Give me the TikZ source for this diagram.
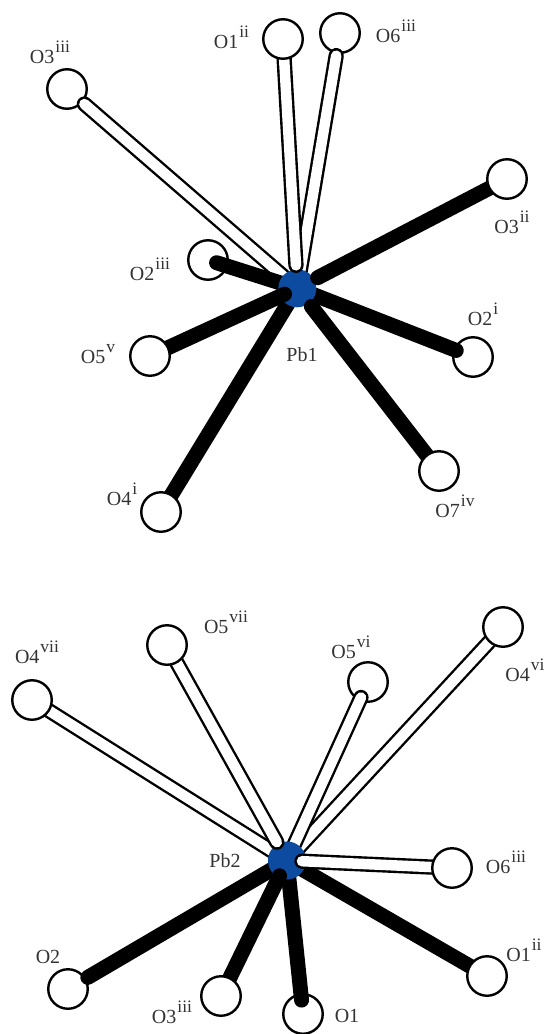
\documentclass[tikz,border=0pt]{standalone}
\usepackage{fontspec}
\setmainfont{Liberation Serif}
\definecolor{pbblue}{RGB}{13,75,160}
\definecolor{labelgray}{gray}{0.2}
\newcommand{\lab}[2]{#1\hspace{1pt}\raisebox{10.5pt}{\fontsize{17.5}{17.5}\selectfont #2}}
\pgfdeclarelayer{lowatoms}
\pgfdeclarelayer{rimbonds}
\pgfdeclarelayer{pblayer}
\pgfdeclarelayer{bitebonds}
\pgfsetlayers{lowatoms,rimbonds,pblayer,bitebonds,main}
\tikzset{
  atom/.style={circle,draw=black,line width=2.4pt,fill=white,minimum size=39.5pt,inner sep=0pt},
  pb/.style={circle,fill=pbblue,minimum size=38pt,inner sep=0pt},
  lbl/.style={text=labelgray,font=\fontsize{20}{20}\selectfont,inner sep=0pt,anchor=base},
  solidbond/.style={draw=black,line width=15pt,line cap=round},
  openbond/.style={draw=black,line width=2.4pt,double=white,double distance=10.5pt,line cap=round},
  bs/.style 2 args={shorten <=#1pt,shorten >=#2pt}
}
\begin{document}
\begin{tikzpicture}[x=1pt,y=-1pt]
\useasboundingbox (0,0) rectangle (545,1034);
\begin{pgfonlayer}{pblayer}
\node[pb] (pb1) at (297.3,288.3) {};
\node[pb] (pb2) at (287,860.5) {};
\end{pgfonlayer}
% oxygen atoms that the bond tip lies on top of
\begin{pgfonlayer}{lowatoms}
\node[atom] (o3iii) at (67,89) {};
\node[atom] (o6iii) at (340,33) {};
\node[atom] (o2iii) at (208,260) {};
\node[atom] (o2i) at (473,357) {};
\node[atom] (b5vi) at (368,682) {};
\node[atom] (b1) at (303,1014) {};
\node[atom] (b2) at (68,989) {};
\end{pgfonlayer}
% oxygen atoms that hide the bond end
\node[atom] (o1ii) at (283,39) {};
\node[atom] (o3ii) at (507,179) {};
\node[atom] (o5v) at (150,356) {};
\node[atom] (o7iv) at (439,471) {};
\node[atom] (o4i) at (161,512) {};
\node[atom] (b4vii) at (32,700) {};
\node[atom] (b5vii) at (167,645) {};
\node[atom] (b4vi) at (503,627) {};
\node[atom] (b6iii) at (452,868) {};
\node[atom] (b1ii) at (487,976) {};
\node[atom] (b3iii) at (221,996) {};
% bonds that end under the lead atom
\begin{pgfonlayer}{rimbonds}
\draw[openbond,bs={23}{12}] (o3iii.center) -- (pb1.center);
\draw[openbond,bs={23}{12}] (o6iii.center) -- (pb1.center);
\draw[solidbond,bs={9}{12}] (o2iii.center) -- (pb1.center);
\draw[solidbond,bs={18}{12}] (o2i.center) -- (pb1.center);
\draw[solidbond,bs={15}{12}] (o4i.center) -- (pb1.center);
\draw[openbond,bs={15}{12}] (b4vii.center) -- (pb2.center);
\draw[openbond,bs={15}{12}] (b4vi.center) -- (pb2.center);
\draw[openbond,bs={17}{12}] (b5vi.center) -- (pb2.center);
\draw[solidbond,bs={15}{12}] (b1ii.center) -- (pb2.center);
\draw[solidbond,bs={14}{12}] (b1.center) -- (pb2.center);
\draw[solidbond,bs={23}{12}] (b2.center) -- (pb2.center);
\end{pgfonlayer}
% bonds whose round end bites into the lead atom
\begin{pgfonlayer}{bitebonds}
\draw[openbond,bs={15}{23}] (o1ii.center) -- (pb1.center);
\draw[solidbond,bs={15}{23}] (o3ii.center) -- (pb1.center);
\draw[solidbond,bs={15}{23}] (o7iv.center) -- (pb1.center);
\draw[solidbond,bs={15}{14}] (o5v.center) -- (pb1.center);
\draw[openbond,bs={15}{21}] (b5vii.center) -- (pb2.center);
\draw[openbond,bs={15}{15}] (b6iii.center) -- (pb2.center);
\draw[solidbond,bs={15}{17}] (b3iii.center) -- (pb2.center);
\end{pgfonlayer}
\node[lbl] (l1) at (50,63) {\lab{O3}{iii}};
\node[lbl] (l2) at (231.5,48) {\lab{O1}{ii}};
\node[lbl] (l3) at (396,42) {\lab{O6}{iii}};
\node[lbl] (l4) at (512,233) {\lab{O3}{ii}};
\node[lbl] (l5) at (150,280) {\lab{O2}{iii}};
\node[lbl] (l6) at (483,325) {\lab{O2}{i}};
\node[lbl] (l7) at (98,363) {\lab{O5}{v}};
\node[lbl] (l8) at (455,517) {\lab{O7}{iv}};
\node[lbl] (l9) at (122,505) {\lab{O4}{i}};
\node[lbl] (l10) at (302,361) {Pb1};
\node[lbl] (m1) at (225,867) {Pb2};
\node[lbl] (m2) at (37,663) {\lab{O4}{vii}};
\node[lbl] (m3) at (226,633) {\lab{O5}{vii}};
\node[lbl] (m4) at (351,658) {\lab{O5}{vi}};
\node[lbl] (m5) at (525,681) {\lab{O4}{vi}};
\node[lbl] (m6) at (506,873) {\lab{O6}{iii}};
\node[lbl] (m7) at (524,961) {\lab{O1}{ii}};
\node[lbl] (m8) at (347,1022) {O1};
\node[lbl] (m9) at (172,1023) {\lab{O3}{iii}};
\node[lbl] (m10) at (48,963) {O2};
\end{tikzpicture}
\end{document}
